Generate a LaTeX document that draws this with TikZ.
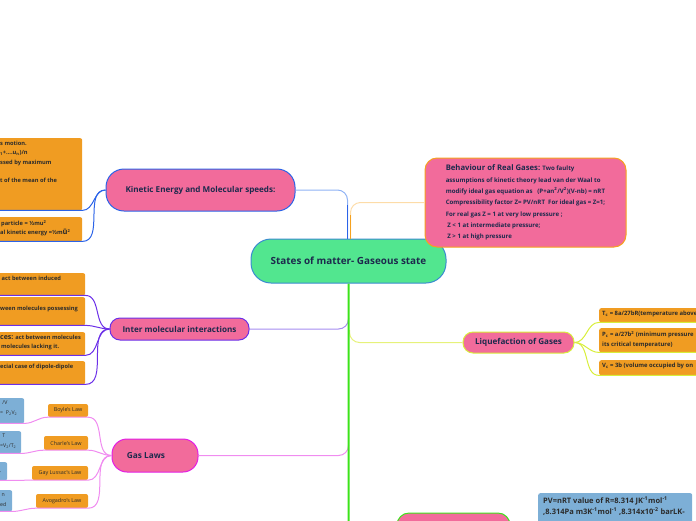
\documentclass[tikz,border=0pt]{standalone}
\usepackage{fontspec}
\setmainfont{Open Sans}
\usetikzlibrary{positioning}

\definecolor{pinkn}{HTML}{F26B9B}
\definecolor{orangeb}{HTML}{F09C22}
\definecolor{steelb}{HTML}{7DAFD6}
\definecolor{greenc}{HTML}{52E68F}
\definecolor{inkc}{HTML}{1D2A4D}
\definecolor{boxink}{HTML}{2B2B2B}
\definecolor{centb}{HTML}{3A8BD0}
\definecolor{kinb}{HTML}{2B63E8}
\definecolor{kinl}{HTML}{8FB2F4}
\definecolor{purb}{HTML}{6B2FE8}
\definecolor{purl}{HTML}{A58CF0}
\definecolor{magb}{HTML}{E41EE4}
\definecolor{magl}{HTML}{F08CF0}
\definecolor{yelb}{HTML}{D8EE3A}
\definecolor{yell}{HTML}{E6F27A}
\definecolor{orb}{HTML}{F5A11F}
\definecolor{orl}{HTML}{FDDCA8}
\definecolor{grnb}{HTML}{3CE31A}

\newcommand\boxlines[3]{\parbox[c][#2][t]{#1}{\raggedright #3}}

\begin{document}
\begin{tikzpicture}[x=1pt,y=-1pt,
  topic/.style={draw=#1,line width=1pt,fill=pinkn,text=inkc,inner sep=0pt,
    font=\fontsize{8.1}{10}\selectfont\bfseries},
  cutbox/.style={fill=#1,rounded corners=2pt,anchor=north west,inner xsep=4pt,
    inner ysep=3pt,text=boxink,font=\fontsize{5.7}{9.3}\selectfont\bfseries},
  lawbox/.style={fill=orangeb,rounded corners=2pt,inner sep=0pt,text=boxink,
    font=\fontsize{5.4}{6}\selectfont},
  link/.style={#1,line width=1pt}]
\useasboundingbox (0,0) rectangle (696,520);

% centre and main topics
\node[draw=centb,line width=1pt,fill=greenc,rounded corners=20pt,minimum width=195pt,
  minimum height=44pt,text=inkc,font=\fontsize{9.9}{12}\selectfont\bfseries] (main) at (348.5,261) {States of matter- Gaseous state};
\node[topic=kinb,minimum width=189pt,minimum height=42pt,rounded corners=18pt] (kin) at (200.5,190) {Kinetic Energy and Molecular speeds:};
\node[topic=purb,minimum width=139pt,minimum height=22pt,rounded corners=10pt] (inter) at (179.5,329) {Inter molecular interactions};
\node[topic=magb,minimum width=86pt,minimum height=33pt,rounded corners=15pt,
  font=\fontsize{8.3}{10}\selectfont\bfseries] (gas) at (155,455.5) {\hspace*{-18pt}Gas Laws};
\node[topic=yelb,minimum width=111pt,minimum height=21pt,rounded corners=10pt] (liq) at (518.5,342.5) {Liquefaction of Gases};
\node[draw=orb,line width=1pt,fill=pinkn,rounded corners=12pt,minimum width=201pt,
  minimum height=89pt,align=left,text=inkc,font=\fontsize{6.1}{11.3}\selectfont\bfseries] (beh) at (525.5,202.5)
  {{\fontsize{7.7}{11.3}\selectfont Behaviour of Real Gases:} Two faulty\\
   assumptions of kinetic theory lead van der Waal to\\
   modify ideal gas equation as \ \ (P+an\textsuperscript{2}/V\textsuperscript{2})(V-nb) = nRT\\
   Compressibility factor Z= PV/nRT \ For ideal gas = Z=1;\\
   For real gas Z = 1 at very low pressure ;\\
   \ Z {\textless} 1 at intermediate pressure;\\
   \ Z {\textgreater} 1 at high pressure};
\node[draw=grnb,line width=1pt,fill=pinkn,rounded corners=12pt,minimum width=113pt,
  minimum height=40pt] (gasreal) at (453.5,533) {};

% kinetic energy boxes
\node[cutbox=orangeb] (kb1) at (-4,138) {\boxlines{78pt}{66pt}{s motion.\\
  \textsubscript{1}+....u\textsubscript{n})/n\\ ssed by maximum\\ \mbox{}\\ t of the mean of the}};
\node[cutbox=orangeb] (kb2) at (-4,217) {\boxlines{78pt}{18pt}{\,particle = ½mu\textsuperscript{2}\\
  al kinetic energy =½m{\fontsize{7.5}{9}\selectfont ū}\textsuperscript{2}}};

% intermolecular boxes
\node[cutbox=orangeb] (ib1) at (-4,273) {\boxlines{81pt}{16pt}{\ act between induced}};
\node[cutbox=orangeb] (ib2) at (-4,297) {\boxlines{81pt}{22pt}{\vspace*{6pt}ween molecules possessing}};
\node[cutbox=orangeb] (ib3) at (-4,332) {\boxlines{81pt}{17pt}{{\fontsize{7}{9.3}\selectfont ces:} act between molecules\\
  \,molecules lacking it.}};
\node[cutbox=orangeb] (ib4) at (-4,361) {\boxlines{81pt}{17pt}{ecial case of dipole-dipole}};

% gas law boxes
\node[lawbox,minimum width=40pt,minimum height=13pt] (boyle) at (68,410.5) {Boyle's Law};
\node[lawbox,minimum width=44pt,minimum height=14pt] (charles) at (66,443) {Charle's Law};
\node[lawbox,minimum width=56pt,minimum height=14pt] (gaylus) at (60,473) {Gay Lussac's Law};
\node[lawbox,minimum width=52pt,minimum height=14pt] (avog) at (62,501) {Avogadro's Law};
\node[cutbox=steelb,font=\fontsize{5.2}{10}\selectfont] (bl1) at (-4,398) {\boxlines{20pt}{19pt}{\ \,/V\\ = \ P\textsubscript{2}V\textsubscript{2}}};
\node[cutbox=steelb,font=\fontsize{5.2}{10}\selectfont] (bl2) at (-4,431) {\boxlines{17pt}{16pt}{\ \,T\\ =V\textsubscript{2}/T\textsubscript{2}}};
\node[cutbox=steelb,font=\fontsize{5.2}{10}\selectfont] (bl3) at (-4,462) {\boxlines{3pt}{12pt}{\vspace*{7pt}.}};
\node[cutbox=steelb,font=\fontsize{5.2}{10}\selectfont] (bl4) at (-4,490) {\boxlines{8pt}{15pt}{\ n\\ ed}};

% liquefaction boxes
\node[cutbox=orangeb,inner xsep=3pt,font=\fontsize{5.9}{9.5}\selectfont\bfseries] (tc) at (599,308) {\boxlines{100pt}{8pt}{T\textsubscript{c} = 8a/27bR(temperature above}};
\node[cutbox=orangeb,inner xsep=3pt,font=\fontsize{5.9}{9.5}\selectfont\bfseries] (pc) at (599,328) {\boxlines{100pt}{18pt}{P\textsubscript{c} = a/27b\textsuperscript{2} (minimum pressure\\ its critical temperature)}};
\node[cutbox=orangeb,inner xsep=3pt,font=\fontsize{5.9}{9.5}\selectfont\bfseries] (vc) at (599,360) {\boxlines{100pt}{9pt}{V\textsubscript{c} = 3b (volume occupied by on}};

% value of R
\node[cutbox=steelb,inner xsep=5pt,inner ysep=4pt,font=\fontsize{7.5}{11}\selectfont\bfseries] (rval) at (538,493)
  {\boxlines{144pt}{40pt}{PV=nRT value of R=8.314 JK\textsuperscript{-1}mol\textsuperscript{-1}\\
   ,8.314Pa m3K\textsuperscript{-1}mol\textsuperscript{-1} ,8.314x10\textsuperscript{-2} barLK-}};

% joints on the trunk
\coordinate (kup) at (347.5,205);
\coordinate (oup) at (350.5,215);
\coordinate (jin) at (348.5,318);
\coordinate (jliq) at (349.5,330);
\coordinate (jgas) at (348.5,445);

% connectors
\draw[link=kinl,rounded corners=10pt] ([xshift=-1pt]main.north) |- (kin.east);
\draw[link=kinb,line width=1.8pt] ([xshift=-1pt]main.north) -- (kup);
\draw[link=orl,rounded corners=10pt] ([xshift=2pt]main.north) |- (beh.west);
\draw[link=orb,line width=1.8pt] ([xshift=2pt]main.north) -- (oup);
\draw[link=purl,rounded corners=10pt] (inter.east) -| (jin);
\draw[link=yell,rounded corners=10pt] (jliq) |- (liq.west);
\draw[link=magl,rounded corners=10pt] (gas.east) -| (jgas);
\draw[grnb,line width=2pt,rounded corners=12pt] (main.south) |- (gasreal.west);

\draw[link=kinb] (kb1.south west) -- (kb1.south east) to[out=0,in=180] (kin.west);
\draw[link=kinb] (kb2.south west) -- (kb2.south east) to[out=0,in=180] (kin.west);

\draw[link=purb] (ib1.south west) -- (ib1.south east) to[out=0,in=180] (inter.west);
\draw[link=purb] (ib2.south west) -- (ib2.south east) to[out=0,in=180] (inter.west);
\draw[link=purb] (ib3.south west) -- (ib3.south east) to[out=0,in=180] (inter.west);
\draw[link=purb] (ib4.south west) -- (ib4.south east) to[out=0,in=180] (inter.west);

\draw[link=magl] (boyle.south west) -- (boyle.south east) to[out=0,in=180] (gas.west);
\draw[link=magl] (charles.south west) -- (charles.south east) to[out=0,in=180] (gas.west);
\draw[link=magl] (gaylus.south west) -- (gaylus.south east) to[out=0,in=180] (gas.west);
\draw[link=magl] (avog.south west) -- (avog.south east) to[out=0,in=180] (gas.west);
\draw[link=magl] (bl1.south west) -- (bl1.south east) to[out=0,in=180] (boyle.south west);
\draw[link=magl] (bl2.south west) -- (bl2.south east) to[out=0,in=180] (charles.south west);
\draw[link=magl] (bl3.south west) -- (bl3.south east) to[out=0,in=180] (gaylus.south west);
\draw[link=magl] (bl4.south west) -- (bl4.south east) to[out=0,in=180] (avog.south west);

\draw[link=yelb] (liq.east) to[out=0,in=180] (tc.south west) -- (tc.south east);
\draw[link=yelb] (liq.east) to[out=0,in=180] (pc.south west) -- (pc.south east);
\draw[link=yelb] (liq.east) to[out=0,in=180] (vc.south west) -- (vc.south east);
\end{tikzpicture}
\end{document}
